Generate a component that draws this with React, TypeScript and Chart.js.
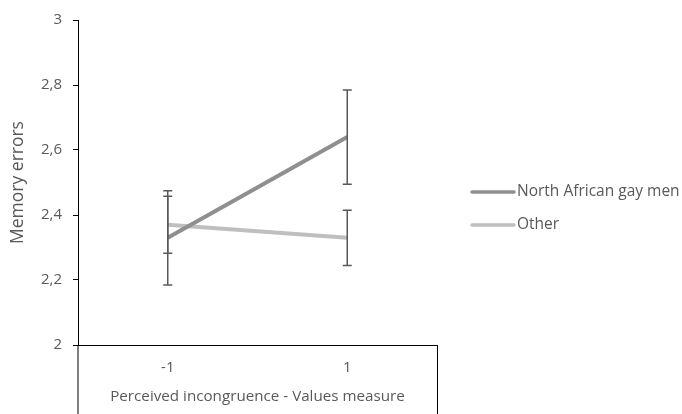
import React, { useEffect, useRef } from "react";
import { Chart, registerables } from "chart.js";

Chart.register(...registerables);

const categories = ["-1", "1"];
const seriesNames = ["North African gay men", "Other"];
const northAfricanValues = [2.33, 2.64];
const northAfricanErrors = [0.145, 0.145];
const otherValues = [2.37, 2.33];
const otherErrors = [0.088, 0.085];
const seriesColors = ["#8f8f8f", "#bfbfbf"];
const yTicks = [2, 2.2, 2.4, 2.6, 2.8, 3];
const xTitle = "Perceived incongruence - Values measure";
const yTitle = "Memory errors";

const FONT = "'Open Sans', Lato, sans-serif";
const TEXT = "#595959";

export default function App() {
  const ref = useRef<HTMLCanvasElement>(null);
  useEffect(() => {
    const canvas = ref.current!;
    const errors = [northAfricanErrors, otherErrors];

    const extras = {
      id: "extras",
      afterDatasetsDraw(chart: any) {
        const ctx = chart.ctx;
        const xs = chart.scales.x;
        const ys = chart.scales.y;
        ctx.save();
        ctx.strokeStyle = "#595959";
        ctx.lineWidth = 1.5;
        chart.data.datasets.forEach((ds: any, di: number) => {
          ds.data.forEach((v: number, i: number) => {
            const x = xs.getPixelForValue(i);
            const e = errors[di][i];
            const yTop = ys.getPixelForValue(v + e);
            const yBot = ys.getPixelForValue(v - e);
            ctx.beginPath();
            ctx.moveTo(x, yTop);
            ctx.lineTo(x, yBot);
            ctx.moveTo(x - 4.5, yTop);
            ctx.lineTo(x + 4.5, yTop);
            ctx.moveTo(x - 4.5, yBot);
            ctx.lineTo(x + 4.5, yBot);
            ctx.stroke();
          });
        });
        ctx.restore();
      },
      afterDraw(chart: any) {
        const ctx = chart.ctx;
        const a = chart.chartArea;
        ctx.save();
        ctx.strokeStyle = "#000";
        ctx.lineWidth = 1;
        ctx.beginPath();
        ctx.moveTo(a.left, a.bottom);
        ctx.lineTo(a.left, chart.height);
        ctx.moveTo(a.right + 0.5, a.bottom);
        ctx.lineTo(a.right + 0.5, chart.height);
        ctx.stroke();
        // legend
        const lx = 472;
        const ly = [192, 225];
        chart.data.datasets.forEach((ds: any, i: number) => {
          ctx.strokeStyle = ds.borderColor;
          ctx.lineWidth = 3.5;
          ctx.lineCap = "round";
          ctx.beginPath();
          ctx.moveTo(lx, ly[i]);
          ctx.lineTo(lx + 42, ly[i]);
          ctx.stroke();
          ctx.fillStyle = TEXT;
          ctx.font = `15.5px ${FONT}`;
          ctx.textBaseline = "middle";
          ctx.textAlign = "left";
          ctx.fillText(ds.label, lx + 45, ly[i]);
        });
        ctx.restore();
      },
    };

    const chart = new Chart(canvas, {
      type: "line",
      data: {
        labels: categories,
        datasets: [
          {
            label: seriesNames[0],
            data: northAfricanValues,
            borderColor: seriesColors[0],
            backgroundColor: seriesColors[0],
            borderWidth: 4,
            pointRadius: 0,
          },
          {
            label: seriesNames[1],
            data: otherValues,
            borderColor: seriesColors[1],
            backgroundColor: seriesColors[1],
            borderWidth: 4,
            pointRadius: 0,
          },
        ],
      },
      options: {
        responsive: false,
        animation: false,
        layout: { padding: { left: 0, top: 14, right: 245, bottom: 0 } },
        plugins: { legend: { display: false }, tooltip: { enabled: false } },
        scales: {
          x: {
            type: "category",
            offset: true,
            grid: { display: false, drawTicks: false },
            border: { display: true, color: "#000", width: 1 },
            ticks: { color: TEXT, font: { family: FONT, size: 15 }, padding: 14 },
            title: {
              display: true,
              text: xTitle,
              color: TEXT,
              font: { family: FONT, size: 15.2 },
              padding: { top: 4, bottom: 8 },
            },
            afterFit(s: any) {
              s.height = 69;
            },
          },
          y: {
            min: 2,
            max: 3,
            grid: { drawOnChartArea: false, drawTicks: true, tickLength: 5, color: "#000" },
            border: { display: true, color: "#000", width: 1 },
            afterBuildTicks(s: any) {
              s.ticks = yTicks.map((v) => ({ value: v }));
            },
            ticks: {
              color: TEXT,
              font: { family: FONT, size: 15 },
              padding: 11,
              callback: (v: any) => String(Number(v).toFixed(1)).replace(/\.0$/, "").replace(".", ","),
            },
            title: {
              display: true,
              text: yTitle,
              color: TEXT,
              font: { family: FONT, size: 17.5 },
              padding: { top: 8, bottom: 4 },
            },
            afterFit(s: any) {
              s.width = 78;
            },
          },
        },
      },
      plugins: [extras],
    });
    return () => chart.destroy();
  }, []);

  return (
    <div style={{ position: "absolute", left: 0, top: 0, width: 682, height: 414, background: "#fff" }}>
      <canvas ref={ref} width={682} height={414} />
    </div>
  );
}
